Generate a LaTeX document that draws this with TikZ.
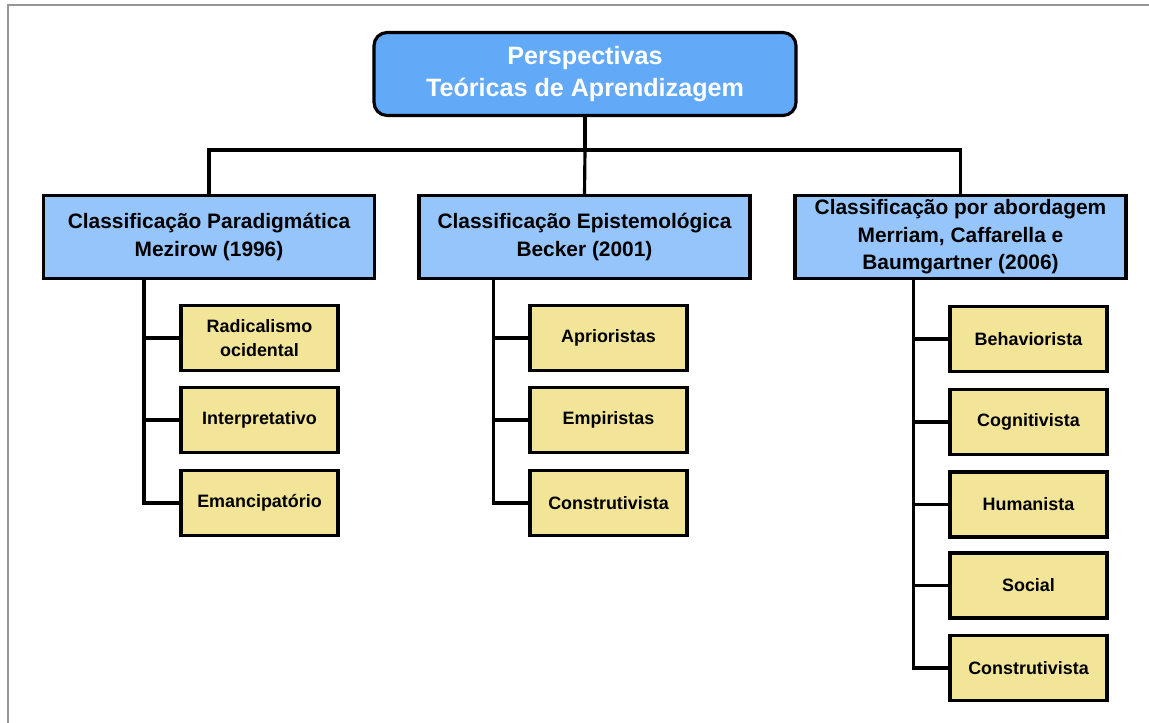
\documentclass[tikz,border=0pt]{standalone}
\usepackage{fontspec}
\setmainfont{Liberation Sans}
\usetikzlibrary{positioning,calc}
\definecolor{topblue}{RGB}{98,169,247}
\definecolor{midblue}{RGB}{149,197,250}
\definecolor{leafyellow}{RGB}{243,229,151}
\definecolor{framegray}{RGB}{150,150,150}

\begin{document}
\begin{tikzpicture}[x=0.02cm, y=-0.02cm,
  topbox/.style={draw, rounded corners=0.26cm, fill=topblue, line width=1.8pt, minimum width=8.44cm, minimum height=1.66cm, align=center, text=white, font=\bfseries\fontsize{14.3}{17.8}\selectfont},
  classbox/.style={draw, rectangle, fill=midblue, line width=1.8pt, minimum width=6.62cm, minimum height=1.66cm, inner ysep=1.5pt, align=center, font=\bfseries\fontsize{11.9}{15.6}\selectfont},
  leafbox/.style={draw, rectangle, fill=leafyellow, line width=1.8pt, minimum width=3.14cm, minimum height=1.3cm, align=center, font=\bfseries\fontsize{10.2}{13.2}\selectfont},
  conn/.style={line width=1.8pt}]
\useasboundingbox (0,0) rectangle (1149,723);
\draw[framegray, line width=0.8pt] (8,723) -- (8,5) -- (1149,5);

% raiz
\node[topbox] (root) at (585,74) {Perspectivas\\Teóricas de Aprendizagem};

% classificacoes
\node[classbox] (cls1) at (209,237) {Classificação Paradigmática\\Mezirow (1996)};
\node[classbox] (cls2) at (584.5,237) {Classificação Epistemológica\\Becker (2001)};
\node[classbox] (cls3) at (960.5,237) {Classificação por abordagem\\Merriam, Caffarella e\\Baumgartner (2006)};

% Mezirow
\node[leafbox] (rad) at (259.5,338) {Radicalismo\\ocidental};
\node[leafbox] (inter) at (259.5,420) {Interpretativo};
\node[leafbox] (eman) at (259.5,503) {Emancipatório};

% Becker
\node[leafbox] (apri) at (608.5,338) {Aprioristas};
\node[leafbox] (empi) at (608.5,420) {Empiristas};
\node[leafbox] (cons1) at (608.5,503) {Construtivista};

% Merriam et al.
\node[leafbox] (behav) at (1028.5,339) {Behaviorista};
\node[leafbox] (cogn) at (1028.5,422) {Cognitivista};
\node[leafbox] (human) at (1028.5,504.5) {Humanista};
\node[leafbox] (social) at (1028.5,585.5) {Social};
\node[leafbox] (cons2) at (1028.5,668) {Construtivista};

% ligacoes
\coordinate (bus) at (585,150);
\draw[conn] (root) -- (bus);
\draw[conn] (cls1.north) |- (bus) -| (cls3.north);
\draw[conn] (bus) -- (cls2.north);

\coordinate (t1) at ([xshift=2.04cm]cls1.south west);
\coordinate (t2) at ([xshift=1.52cm]cls2.south west);
\coordinate (t3) at ([xshift=2.4cm]cls3.south west);
\foreach \n in {rad,inter,eman} \draw[conn] (t1) |- (\n.west);
\foreach \n in {apri,empi,cons1} \draw[conn] (t2) |- (\n.west);
\foreach \n in {behav,cogn,human,social,cons2} \draw[conn] (t3) |- (\n.west);
\end{tikzpicture}
\end{document}
